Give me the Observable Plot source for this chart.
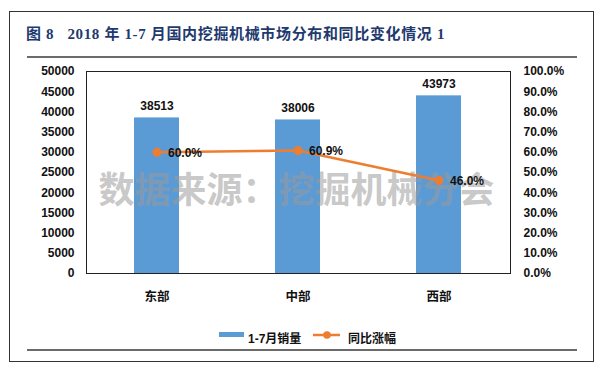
<!DOCTYPE html>
<html>
<head>
<meta charset="utf-8">
<script src="https://cdn.jsdelivr.net/npm/d3@7"></script>
<script src="https://cdn.jsdelivr.net/npm/@observablehq/plot@0.6"></script>
<style>
  html, body { margin: 0; padding: 0; background: #fff; }
  #wrap { position: relative; width: 607px; height: 372px; overflow: hidden; background: #fff;
          font-family: "Liberation Sans", Arial, "Noto Sans CJK SC", sans-serif; }
  #border { position: absolute; left: 9px; top: 11px; width: 585px; height: 351px; border: 1px solid #333; box-sizing: border-box; }
  #title { position: absolute; left: 26px; top: 22px; font-family: "Liberation Serif", "Noto Sans CJK SC", serif;
           font-weight: bold; font-size: 15px; color: #1f3a6e; white-space: pre; letter-spacing: 0.65px; }
  .hline { position: absolute; left: 27px; width: 550px; height: 2px; background: #6b6b6b; }
  #chart { position: absolute; left: 0; top: 0; }
  #legend { position: absolute; top: 327px; left: 0; width: 607px; height: 20px; font-size: 12px; font-weight: bold; color: #111;
            font-family: "Liberation Sans", Arial, "Noto Sans CJK SC", sans-serif; }
  .lg { position: absolute; top: 2px; white-space: nowrap; }
</style>
</head>
<body>
<div id="wrap">
  <div id="border"></div>
  <div id="title">图 8   2018 年 1-7 月国内挖掘机械市场分布和同比变化情况 1</div>
  <div class="hline" style="top:56px"></div>
  <div id="chart"></div>
  <div id="legend"></div>
  <div class="hline" style="top:349px"></div>
</div>
<script>
const categories = ["东部", "中部", "西部"];
const sales = [38513, 38006, 43973];
const growth = [0.600, 0.609, 0.460];
const leftTicks = [0, 5000, 10000, 15000, 20000, 25000, 30000, 35000, 40000, 45000, 50000];
const seriesNames = ["1-7月销量", "同比涨幅"];
const watermark = "数据来源：挖掘机械分会";

const yMax = 50000;
const barColor = "#5b9bd5";
const lineColor = "#ed7d31";

const rows = categories.map((c, i) => ({cat: c, sales: sales[i], growth: growth[i], gy: growth[i] * yMax}));

const font = "Liberation Sans, Arial, Noto Sans CJK SC, sans-serif";

const chart = Plot.plot({
  width: 607,
  height: 310,
  marginTop: 71,
  marginBottom: 37,
  marginLeft: 86,
  marginRight: 97,
  style: {fontFamily: font, fontSize: "12px", fontWeight: "bold", color: "#111", background: "transparent"},
  x: {domain: categories, paddingInner: 0.68, paddingOuter: 0.34, align: 0.5},
  y: {domain: [0, yMax]},
  marks: [
    Plot.barY(rows, {x: "cat", y: "sales", fill: barColor}),
    Plot.text([watermark], {frameAnchor: "middle", dx: -2, dy: 19, text: d => d,
      fontSize: 36, fontWeight: "bold", fill: "#9a9a9a", fillOpacity: 0.55,
      fontFamily: "Noto Sans CJK SC, sans-serif"}),
    Plot.frame({stroke: "#222", strokeWidth: 1}),
    Plot.axisY({ticks: leftTicks, tickSize: 0, tickPadding: 12, label: null, fontSize: 12, tickFormat: d => String(d)}),
    Plot.axisY({anchor: "right", ticks: leftTicks, tickSize: 0, tickPadding: 13, label: null,
      tickFormat: d => (d / yMax * 100).toFixed(1) + "%"}),
    Plot.axisX({tickSize: 0, tickPadding: 19, label: null, fontSize: 12.5}),
    Plot.text(rows, {x: "cat", y: "sales", text: d => String(d.sales), dy: -12, fill: "#111", fontSize: 12}),
    Plot.line(rows, {x: "cat", y: "gy", stroke: lineColor, strokeWidth: 2.5}),
    Plot.dot(rows, {x: "cat", y: "gy", r: 3.8, fill: lineColor, stroke: lineColor}),
    Plot.text(rows, {x: "cat", y: "gy", text: d => (d.growth * 100).toFixed(1) + "%", textAnchor: "start", dx: 11, dy: 1, fill: "#111", fontSize: 12})
  ]
});
document.getElementById("chart").appendChild(chart);

const legend = document.getElementById("legend");
legend.innerHTML = `
  <svg width="607" height="20" style="position:absolute;left:0;top:0">
    <rect x="219" y="5" width="25" height="5" fill="${barColor}"></rect>
    <line x1="313" x2="340" y1="8" y2="8" stroke="${lineColor}" stroke-width="2.5"></line>
    <circle cx="327" cy="8" r="3.8" fill="${lineColor}"></circle>
  </svg>
  <span class="lg" style="left:248px">${seriesNames[0]}</span>
  <span class="lg" style="left:348px">${seriesNames[1]}</span>`;
</script>
</body>
</html>
